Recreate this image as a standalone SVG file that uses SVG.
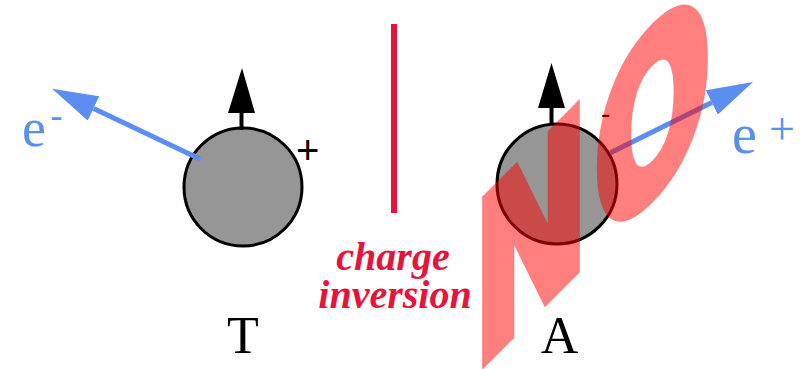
<svg xmlns="http://www.w3.org/2000/svg" width="803" height="369" viewBox="0 0 803 369">
  <style>
    .ball { fill: #969696; stroke: #000; stroke-width: 3; }
    .spin { fill: #000; }
    .shaft { stroke: #000; stroke-width: 4; }
    .track { stroke: #5b8ef0; stroke-width: 5; fill: none; marker-end: url(#blueHead); }
    .serif { font-family: "Liberation Serif", "Times New Roman", serif; }
    .lepton { fill: #5b8ef0; }
    .label { fill: #000; font-size: 52px; text-anchor: middle; }
    .sign { font-family: "Liberation Sans", Arial, sans-serif; fill: #000; }
    .inv { fill: #e6143c; font-size: 40px; font-style: italic; font-weight: bold; text-anchor: middle; }
    .stamp { font-family: "DejaVu Sans", "Liberation Sans", sans-serif; font-weight: bold; font-size: 221px; fill: #ff0000; stroke: #ff0000; stroke-width: 12; stroke-linejoin: miter; }
  </style>
  <defs>
    <marker id="blueHead" markerUnits="userSpaceOnUse" viewBox="0 0 46 27" refX="0" refY="13.5" markerWidth="46" markerHeight="27" orient="auto">
      <path d="M0,0 L46,13.5 L0,27 Z" fill="#5b8ef0"/>
    </marker>
  </defs>

  <rect width="803" height="369" fill="#fff"/>

  <!-- left particle: T -->
  <g id="particle-T">
    <circle class="ball" cx="243" cy="187" r="59"/>
    <line class="shaft" x1="241.5" y1="111" x2="241.5" y2="130"/>
    <polygon class="spin" points="228,113 255,113 242,68"/>
    <text class="sign" x="296" y="164" font-size="40">+</text>
    <text class="serif label" x="243" y="353">T</text>
  </g>

  <!-- right particle: A -->
  <g id="particle-A">
    <circle class="ball" cx="557" cy="184" r="60"/>
    <line class="shaft" x1="551.5" y1="106" x2="551.5" y2="125"/>
    <polygon class="spin" points="538,108 565,108 551.5,63"/>
    <text class="sign" x="601" y="123" font-size="28">-</text>
    <text class="serif label" x="559.5" y="353">A</text>
  </g>

  <!-- mirror line -->
  <g id="inversion">
    <line x1="394" y1="24" x2="394" y2="213" stroke="#e6143c" stroke-width="6"/>
    <text class="serif inv" x="393" y="270">charge</text>
    <text class="serif inv" x="395" y="308">inversion</text>
  </g>

  <!-- emitted leptons -->
  <g id="connectors">
    <path class="track" d="M200,159 L93.6,108.4"/>
    <path class="track" d="M610,153 L711.8,102.5"/>
  </g>
  <g id="electron">
    <text class="serif lepton" x="22" y="146" font-size="54">e<tspan x="50.6" y="127" font-size="36">-</tspan></text>
  </g>
  <g id="positron">
    <text class="serif lepton" x="732" y="153" font-size="56">e<tspan x="769" y="143.6" font-size="46">+</tspan></text>
  </g>

  <!-- stamp across the right half -->
  <g id="stamp" opacity="0.5">
    <text class="stamp" transform="translate(482,364) skewY(-45) scale(0.624,1)" x="-14" y="0">N<tspan dx="8">O</tspan></text>
  </g>
</svg>
